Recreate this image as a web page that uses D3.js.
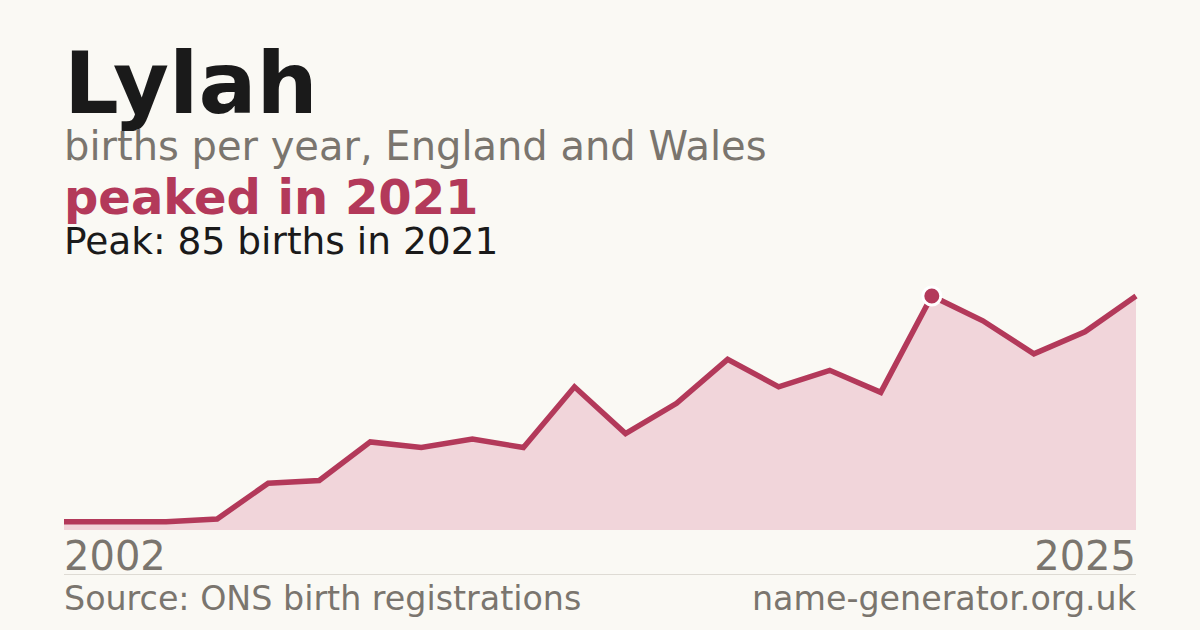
<!DOCTYPE html>
<html>
<head>
<meta charset="utf-8">
<script src="https://cdn.jsdelivr.net/npm/d3@7"></script>
<style>
  html, body { margin: 0; padding: 0; background: #faf9f4; }
  svg text { font-family: "DejaVu Sans", sans-serif; }
</style>
</head>
<body>
<svg id="chart" width="1200" height="630"></svg>
<script>
// births per year (two years missing from the series)
const years = [2002, 2005, 2006, 2007, 2008, 2009, 2010, 2011, 2012, 2013, 2014,
               2015, 2016, 2017, 2018, 2019, 2020, 2021, 2022, 2023, 2024, 2025];
const births = [3, 3, 3, 4, 17, 18, 32, 30, 33, 30, 52,
                35, 46, 62, 52, 58, 50, 85, 76, 64, 72, 85];
const axisLabels = ['2002', '2025'];

const RED = '#b3395a';
const GREY = '#7a756e';

const svg = d3.select('#chart');

const data = years.map((y, i) => ({ year: y, value: births[i] }));
const peak = data.reduce((a, b) => (b.value > a.value ? b : a));

const x = d3.scalePoint()
  .domain(years)
  .range([64, 1136]);

const y = d3.scaleLinear()
  .domain([0, peak.value])
  .range([530, 296]);

// titles
svg.append('text')
  .attr('x', 64).attr('y', 113)
  .attr('font-size', 86).attr('font-weight', 'bold')
  .attr('fill', '#1a1a1a')
  .text('Lylah');

svg.append('text')
  .attr('x', 64).attr('y', 160)
  .attr('font-size', 40)
  .attr('fill', GREY)
  .text('births per year, England and Wales');

svg.append('text')
  .attr('x', 64).attr('y', 214)
  .attr('font-size', 48).attr('font-weight', 'bold')
  .attr('fill', RED)
  .text('peaked in ' + peak.year);

svg.append('text')
  .attr('x', 64).attr('y', 254)
  .attr('font-size', 37.5)
  .attr('fill', '#1a1a1a')
  .text(`Peak: ${peak.value} births in ${peak.year}`);

// area + line
const area = d3.area()
  .x(d => x(d.year))
  .y0(y(0))
  .y1(d => y(d.value));

const line = d3.line()
  .x(d => x(d.year))
  .y(d => y(d.value));

svg.append('path')
  .datum(data)
  .attr('d', area)
  .attr('fill', '#f1d5da');

svg.append('path')
  .datum(data)
  .attr('d', line)
  .attr('fill', 'none')
  .attr('stroke', RED)
  .attr('stroke-width', 5.5)
  .attr('stroke-linejoin', 'miter');

// peak marker
svg.append('circle')
  .attr('cx', x(peak.year))
  .attr('cy', y(peak.value))
  .attr('r', 9)
  .attr('fill', RED)
  .attr('stroke', '#ffffff')
  .attr('stroke-width', 3);

// first / last year
svg.append('text')
  .attr('x', 64).attr('y', 570)
  .attr('font-size', 40)
  .attr('fill', GREY)
  .text(axisLabels[0]);

svg.append('text')
  .attr('x', 1136).attr('y', 570)
  .attr('text-anchor', 'end')
  .attr('font-size', 40)
  .attr('fill', GREY)
  .text(axisLabels[1]);

// footer
svg.append('line')
  .attr('x1', 64).attr('x2', 1136)
  .attr('y1', 574.5).attr('y2', 574.5)
  .attr('stroke', '#dedbd4')
  .attr('stroke-width', 1);

svg.append('text')
  .attr('x', 64).attr('y', 610)
  .attr('font-size', 33.3)
  .attr('fill', GREY)
  .text('Source: ONS birth registrations');

svg.append('text')
  .attr('x', 1136).attr('y', 610)
  .attr('text-anchor', 'end')
  .attr('font-size', 33.3)
  .attr('fill', GREY)
  .text('name-generator.org.uk');
</script>
</body>
</html>
